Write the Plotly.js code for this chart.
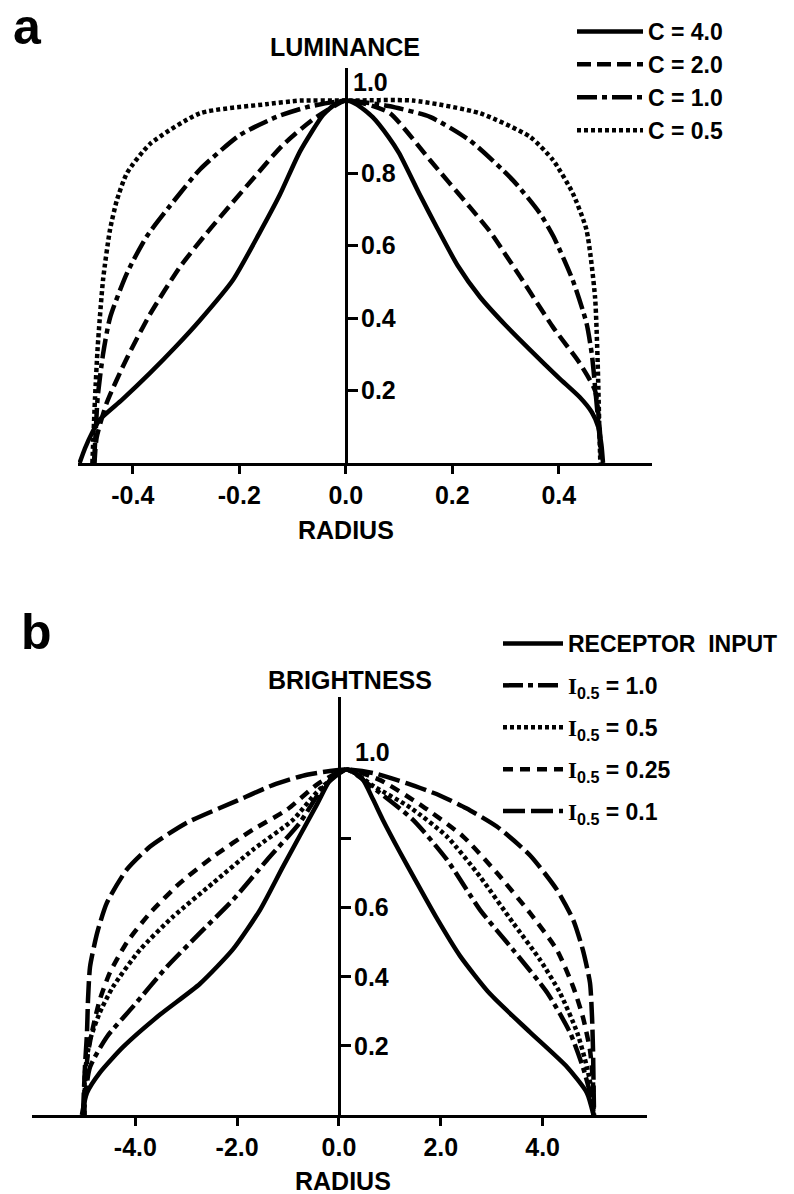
<!DOCTYPE html>
<html><head><meta charset="utf-8">
<script src="https://cdn.plot.ly/plotly-3.0.1.min.js"></script>
<style>html,body{margin:0;padding:0;background:#fff}</style>
</head><body>
<div id="chart" style="width:794px;height:1194px"></div>
<script>
// ---------- Panel a: luminance profiles ----------
const aC4X = [-0.500,-0.490,-0.476,-0.462,-0.420,-0.368,-0.320,-0.274,-0.212,-0.162,-0.124,-0.086,-0.043,-0.020,0.000,0.020,0.050,0.080,0.100,0.139,0.171,0.210,0.252,0.300,0.346,0.400,0.439,0.462,0.474,0.480,0.483];
const aC4Y = [0.000,0.040,0.085,0.120,0.175,0.248,0.320,0.394,0.505,0.635,0.740,0.860,0.960,0.990,1.000,0.990,0.955,0.900,0.855,0.740,0.650,0.545,0.458,0.380,0.312,0.235,0.182,0.140,0.100,0.050,0.000];

const aC2X = [-0.472,-0.468,-0.449,-0.411,-0.368,-0.312,-0.261,-0.215,-0.171,-0.120,-0.060,0.000,0.040,0.083,0.158,0.233,0.270,0.300,0.327,0.389,0.439,0.468,0.477,0.480];
const aC2Y = [0.000,0.070,0.166,0.290,0.410,0.540,0.635,0.715,0.790,0.875,0.950,1.000,0.990,0.965,0.836,0.706,0.640,0.575,0.515,0.375,0.276,0.200,0.090,0.000];

const aC1X = [-0.473,-0.470,-0.466,-0.456,-0.443,-0.411,-0.374,-0.317,-0.274,-0.199,-0.130,-0.073,0.000,0.080,0.158,0.233,0.314,0.364,0.390,0.426,0.452,0.462,0.470,0.476,0.480];
const aC1Y = [0.000,0.080,0.182,0.300,0.400,0.524,0.625,0.734,0.810,0.905,0.955,0.982,1.000,0.985,0.955,0.890,0.780,0.690,0.625,0.505,0.386,0.300,0.180,0.080,0.000];

const aC05X = [-0.476,-0.471,-0.466,-0.456,-0.443,-0.430,-0.411,-0.368,-0.274,-0.150,-0.086,0.000,0.126,0.252,0.346,0.389,0.426,0.452,0.468,0.473,0.476,0.478];
const aC05Y = [0.000,0.180,0.320,0.505,0.643,0.725,0.800,0.880,0.965,0.990,1.000,1.000,1.000,0.965,0.900,0.836,0.745,0.643,0.458,0.276,0.100,0.000];

const aNames = ["C = 4.0", "C = 2.0", "C = 1.0", "C = 0.5"];
const aTickVals = [-0.4, -0.2, 0.0, 0.2, 0.4];
const aTickText = ["-0.4", "-0.2", "0.0", "0.2", "0.4"];

// ---------- Panel b: brightness profiles ----------
const bRecX = [-5.05,-4.95,-4.70,-4.24,-3.52,-2.73,-2.08,-1.55,-1.10,-0.43,-0.15,0.15,0.45,0.67,0.86,1.20,1.50,1.90,2.38,2.97,3.75,4.48,4.87,5.00];
const bRecY = [0.000,0.064,0.122,0.197,0.290,0.380,0.480,0.594,0.719,0.900,0.975,1.000,0.975,0.913,0.855,0.760,0.680,0.575,0.460,0.350,0.240,0.139,0.064,0.000];

const bI10X = [-5.03,-4.98,-4.89,-4.56,-4.05,-3.38,-2.73,-2.08,-1.41,-0.77,-0.30,0.15,0.60,1.45,2.12,2.77,3.42,4.09,4.54,4.79,4.93,5.00];
const bI10Y = [0.000,0.064,0.139,0.226,0.313,0.429,0.527,0.623,0.739,0.846,0.950,1.000,0.955,0.855,0.739,0.594,0.478,0.354,0.238,0.139,0.064,0.000];

const bI05X = [-5.00,-4.99,-4.89,-4.70,-4.44,-3.91,-3.26,-2.47,-1.69,-0.90,-0.40,0.15,0.70,1.40,2.12,2.77,3.42,3.95,4.34,4.68,4.87,4.97,5.00];
const bI05Y = [0.000,0.122,0.217,0.296,0.371,0.478,0.574,0.672,0.768,0.855,0.940,1.000,0.950,0.890,0.806,0.690,0.556,0.449,0.354,0.238,0.139,0.064,0.000];

const bI025X = [-5.00,-4.99,-4.93,-4.83,-4.70,-4.50,-4.17,-3.71,-3.12,-2.47,-1.69,-1.02,-0.40,0.15,0.80,1.65,2.44,3.10,3.75,4.28,4.60,4.79,4.93,4.99,5.00];
const bI025Y = [0.000,0.081,0.180,0.255,0.333,0.412,0.499,0.585,0.672,0.748,0.826,0.884,0.960,1.000,0.970,0.893,0.806,0.701,0.585,0.478,0.371,0.284,0.188,0.093,0.000];

const bI01X = [-5.03,-4.99,-4.95,-4.93,-4.89,-4.75,-4.56,-4.17,-3.71,-2.99,-2.00,-1.30,-0.63,0.15,0.67,1.34,1.98,2.50,3.10,3.75,4.28,4.60,4.79,4.93,4.97,4.99,5.00,5.01];
const bI01Y = [0.000,0.139,0.238,0.333,0.429,0.527,0.614,0.710,0.777,0.846,0.910,0.955,0.985,1.000,0.990,0.960,0.925,0.888,0.835,0.752,0.652,0.565,0.478,0.383,0.284,0.188,0.093,0.000];

const bNames = ["RECEPTOR\u00A0\u00A0INPUT",
  "<span style='font-family:Liberation Serif'>I</span><sub>0.5</sub> = 1.0",
  "<span style='font-family:Liberation Serif'>I</span><sub>0.5</sub> = 0.5",
  "<span style='font-family:Liberation Serif'>I</span><sub>0.5</sub> = 0.25",
  "<span style='font-family:Liberation Serif'>I</span><sub>0.5</sub> = 0.1"];
const bTickVals = [-4, -2, 0, 2, 4];
const bTickText = ["-4.0", "-2.0", "0.0", "2.0", "4.0"];

const yTickVals = [0.2, 0.4, 0.6, 0.8];
const aYTickText = ["0.2", "0.4", "0.6", "0.8"];
const bYTickText = ["0.2", "0.4", "0.6", " "];

// ---------- styling ----------
const FAM = "Liberation Sans, Arial, sans-serif";
const FONT = {family: FAM, size: 25, color: "#000", weight: "bold"};
const LFONT = {family: FAM, size: 23, color: "#000", weight: "bold"};
const LW = 4.5;
const DASH = {
  solid: "solid",
  dashed: "14px,6px",
  longdashdot: "20px,5px,5px,5px",
  dotted: "4px,3px",
  shortdash: "10px,7px",
  longdash: "22px,6px"
};

function tr(x, y, name, dash, xa, ya, leg, grp) {
  return {x: x, y: y, name: name, type: "scatter", mode: "lines",
    line: {color: "#000", width: LW, dash: dash, shape: "spline", smoothing: 0.6},
    xaxis: xa, yaxis: ya, legend: leg, legendgroup: grp, hoverinfo: "skip"};
}

const data = [
  tr(aC4X, aC4Y, aNames[0], DASH.solid, "x", "y", "legend", "a"),
  tr(aC2X, aC2Y, aNames[1], DASH.dashed, "x", "y", "legend", "a"),
  tr(aC1X, aC1Y, aNames[2], DASH.longdashdot, "x", "y", "legend", "a"),
  tr(aC05X, aC05Y, aNames[3], DASH.dotted, "x", "y", "legend", "a"),
  tr(bRecX, bRecY, bNames[0], DASH.solid, "x2", "y2", "legend2", "b1"),
  tr(bI10X, bI10Y, bNames[1], DASH.longdashdot, "x2", "y2", "legend2", "b2"),
  tr(bI05X, bI05Y, bNames[2], DASH.dotted, "x2", "y2", "legend2", "b3"),
  tr(bI025X, bI025Y, bNames[3], DASH.shortdash, "x2", "y2", "legend2", "b4"),
  tr(bI01X, bI01Y, bNames[4], DASH.longdash, "x2", "y2", "legend2", "b5")
];

const W = 794, H = 1194;
function px(X) { return X / W; }
function py(Y) { return 1 - Y / H; }

function xAx(domain, range, vals, text, anchor) {
  return {domain: domain, range: range, anchor: anchor, showline: true, linecolor: "#000", linewidth: 3,
    ticks: "outside", ticklen: 8, tickwidth: 3, tickcolor: "#000",
    tickmode: "array", tickvals: vals, ticktext: text, tickfont: FONT,
    showgrid: false, zeroline: false, fixedrange: true};
}
function yAx(domain, range, pos, text) {
  return {domain: domain, range: range, anchor: "free", position: pos, side: "right",
    showline: true, linecolor: "#000", linewidth: 3,
    ticks: "outside", ticklen: 10, tickwidth: 3, tickcolor: "#000",
    tickmode: "array", tickvals: yTickVals, ticktext: text, tickfont: FONT, ticklabelstandoff: -2,
    showgrid: false, zeroline: false, fixedrange: true};
}

const ann = (text, x, y, size) => ({text: text, x: x, y: y, xref: "paper", yref: "paper",
  xanchor: "center", yanchor: "middle",
  showarrow: false, font: {family: FAM, size: size, color: "#000", weight: "bold"}});

const layout = {
  width: W, height: H,
  margin: {l: 0, r: 0, t: 0, b: 0},
  paper_bgcolor: "#fff", plot_bgcolor: "rgba(0,0,0,0)",
  showlegend: true,
  xaxis: xAx([px(78), px(652)], [-0.503, 0.575], aTickVals, aTickText, "y"),
  yaxis: yAx([py(463), py(68)], [0, 1.09], px(346), aYTickText),
  xaxis2: xAx([px(32), px(647)], [-6.03, 6.05], bTickVals, bTickText, "y2"),
  yaxis2: yAx([py(1115), py(697)], [0, 1.21], px(339), bYTickText),
  legend: {x: px(572), y: py(10), xanchor: "left", yanchor: "top", font: LFONT,
    bgcolor: "rgba(0,0,0,0)", itemwidth: 66, tracegroupgap: 0},
  legend2: {x: px(498), y: py(622), xanchor: "left", yanchor: "top", font: LFONT,
    bgcolor: "rgba(0,0,0,0)", itemwidth: 60, tracegroupgap: 9},
  annotations: [
    ann("a", px(27), py(27), 50),
    ann("b", px(36), py(632), 50),
    ann("LUMINANCE", px(345), py(47), 25),
    ann("RADIUS", px(346), py(530), 25),
    ann("BRIGHTNESS", px(350), py(680), 25),
    ann("RADIUS", px(343), py(1181), 25),
    {text: "1.0", x: 0, y: 1.05, xref: "x", yref: "y", xanchor: "left", yanchor: "middle", xshift: 5, showarrow: false, font: FONT},
    {text: "1.0", x: 0, y: 1.05, xref: "x2", yref: "y2", xanchor: "left", yanchor: "middle", xshift: 14, showarrow: false, font: FONT}
  ]
};

Plotly.newPlot("chart", data, layout, {staticPlot: true, displayModeBar: false});
</script>
</body></html>
